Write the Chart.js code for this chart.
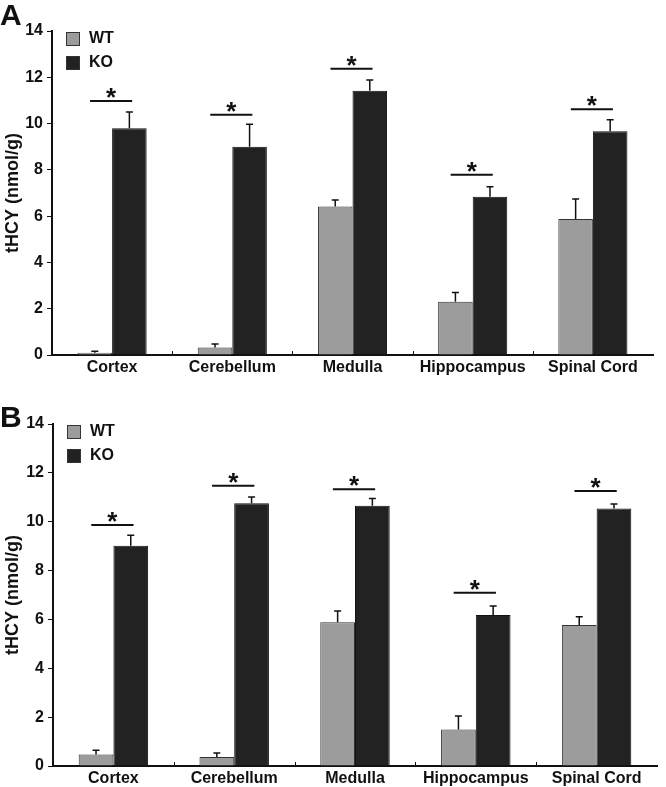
<!DOCTYPE html>
<html>
<head>
<meta charset="utf-8">
<script src="https://cdn.jsdelivr.net/npm/chart.js@4/dist/chart.umd.min.js"></script>
<style>
  html, body { margin: 0; padding: 0; background: #fff; }
  .panel { position: absolute; left: 0; }
  .tag { position: absolute; left: 0; font: bold 30px "Liberation Sans", Arial, sans-serif; line-height: 30px; color: #111; }
</style>
</head>
<body>
<canvas id="chartA" class="panel" style="top:0" width="666" height="378"></canvas>
<canvas id="chartB" class="panel" style="top:380px" width="666" height="407"></canvas>
<div class="tag" style="top:0px">A</div>
<div class="tag" style="top:402px">B</div>
<script>
const categories = ["Cortex", "Cerebellum", "Medulla", "Hippocampus", "Spinal Cord"];
const seriesNames = ["WT", "KO"];
const yTicks = [0, 2, 4, 6, 8, 10, 12, 14];

// panel A
const wtA = [0.1, 0.32, 6.42, 2.3, 5.88];
const koA = [9.8, 9.0, 11.42, 6.84, 9.67];
const wtErrA = [0.06, 0.16, 0.28, 0.4, 0.86];
const koErrA = [0.7, 0.97, 0.46, 0.43, 0.49];
const sigA = [10.97, 10.38, 12.37, 7.79, 10.62];

// panel B
const wtB = [0.47, 0.37, 5.88, 1.49, 5.77];
const koB = [9.02, 10.76, 10.65, 6.18, 10.54];
const wtErrB = [0.17, 0.16, 0.47, 0.56, 0.34];
const koErrB = [0.43, 0.25, 0.3, 0.37, 0.19];
const sigB = [9.87, 11.47, 11.33, 7.09, 11.26];

const FONT = '"Liberation Sans", Arial, sans-serif';
const colors = ["#9c9c9c", "#222222"];

const extras = {
  id: "extras",
  afterDatasetsDraw(chart) {
    const ctx = chart.ctx;
    const x = chart.scales.x, y = chart.scales.y;
    const area = chart.chartArea;
    const catW = x.width / categories.length;
    ctx.save();

    // error bars (upper only)
    chart.data.datasets.forEach((ds, i) => {
      chart.getDatasetMeta(i).data.forEach((bar, j) => {
        const top = y.getPixelForValue(ds.data[j] + ds.errors[j]);
        ctx.strokeStyle = "#111";
        ctx.lineWidth = 1.5;
        ctx.beginPath();
        ctx.moveTo(bar.x, bar.y);
        ctx.lineTo(bar.x, top);
        ctx.moveTo(bar.x - 3.5, top);
        ctx.lineTo(bar.x + 3.5, top);
        ctx.stroke();
      });
    });

    // significance lines + stars
    const sig = chart.options.plugins.extras.sig;
    sig.forEach((v, j) => {
      const cx = x.getPixelForValue(j) - 1;
      const py = y.getPixelForValue(v);
      ctx.strokeStyle = "#111";
      ctx.lineWidth = 2;
      ctx.beginPath();
      ctx.moveTo(cx - catW * 0.175, py);
      ctx.lineTo(cx + catW * 0.175, py);
      ctx.stroke();
      ctx.fillStyle = "#111";
      ctx.font = "bold 26px " + FONT;
      ctx.textAlign = "center";
      ctx.textBaseline = "alphabetic";
      ctx.fillText("*", cx, py + 5);
    });

    // small ticks between categories
    ctx.strokeStyle = "#111";
    ctx.lineWidth = 1;
    for (let k = 1; k < categories.length; k++) {
      const px = Math.round(x.left + k * catW) + 0.5;
      ctx.beginPath();
      ctx.moveTo(px, area.bottom);
      ctx.lineTo(px, area.bottom - 4);
      ctx.stroke();
    }

    // legend
    chart.data.datasets.forEach((ds, i) => {
      const sx = area.left + 14, sy = area.top + 1 + i * 24;
      ctx.fillStyle = ds.backgroundColor;
      ctx.fillRect(sx, sy, 14, 14);
      ctx.strokeStyle = "#333";
      ctx.lineWidth = 1;
      ctx.strokeRect(sx + 0.5, sy + 0.5, 13, 13);
      ctx.fillStyle = "#111";
      ctx.font = "bold 16px " + FONT;
      ctx.textAlign = "left";
      ctx.textBaseline = "middle";
      ctx.fillText(ds.label, sx + 23, sy + 7);
    });
    ctx.restore();
  }
};

function makeChart(id, wt, ko, wtErr, koErr, sig, pad, axisW, xAxisH) {
  return new Chart(document.getElementById(id), {
    type: "bar",
    data: {
      labels: categories,
      datasets: [
        { label: seriesNames[0], data: wt, errors: wtErr, backgroundColor: colors[0], borderColor: "#333", borderWidth: 1 },
        { label: seriesNames[1], data: ko, errors: koErr, backgroundColor: colors[1], borderColor: "#111", borderWidth: 1 },
      ],
    },
    options: {
      responsive: false,
      devicePixelRatio: 1,
      animation: false,
      layout: { padding: pad },
      datasets: { bar: { categoryPercentage: 0.575, barPercentage: 1 } },
      plugins: {
        legend: { display: false },
        tooltip: { enabled: false },
        extras: { sig: sig },
      },
      scales: {
        x: {
          grid: { display: false, drawTicks: false },
          border: { display: true, color: "#111", width: 2 },
          ticks: { color: "#111", font: { family: FONT, size: 16, weight: "bold" }, padding: 3, maxRotation: 0, autoSkip: false },
          afterFit(s) { s.height = xAxisH; },
        },
        y: {
          min: yTicks[0],
          max: yTicks[yTicks.length - 1],
          afterBuildTicks(s) { s.ticks = yTicks.map(v => ({ value: v })); },
          grid: { drawOnChartArea: false, drawTicks: true, tickLength: 5, color: "#111" },
          border: { display: true, color: "#111", width: 2 },
          ticks: { color: "#111", font: { family: FONT, size: 16, weight: "bold" }, padding: 4 },
          title: { display: true, text: "tHCY (nmol/g)", color: "#111", font: { family: FONT, size: 18, weight: "bold" }, padding: { top: 2, bottom: 0 } },
          afterFit(s) { s.width = axisW; },
        },
      },
    },
    plugins: [extras],
  });
}

makeChart("chartA", wtA, koA, wtErrA, koErrA, sigA, { left: 0, top: 31, right: 13, bottom: 0 }, 52, 23);
makeChart("chartB", wtB, koB, wtErrB, koErrB, sigB, { left: 0, top: 44, right: 9, bottom: 0 }, 53, 21);
</script>
</body>
</html>
